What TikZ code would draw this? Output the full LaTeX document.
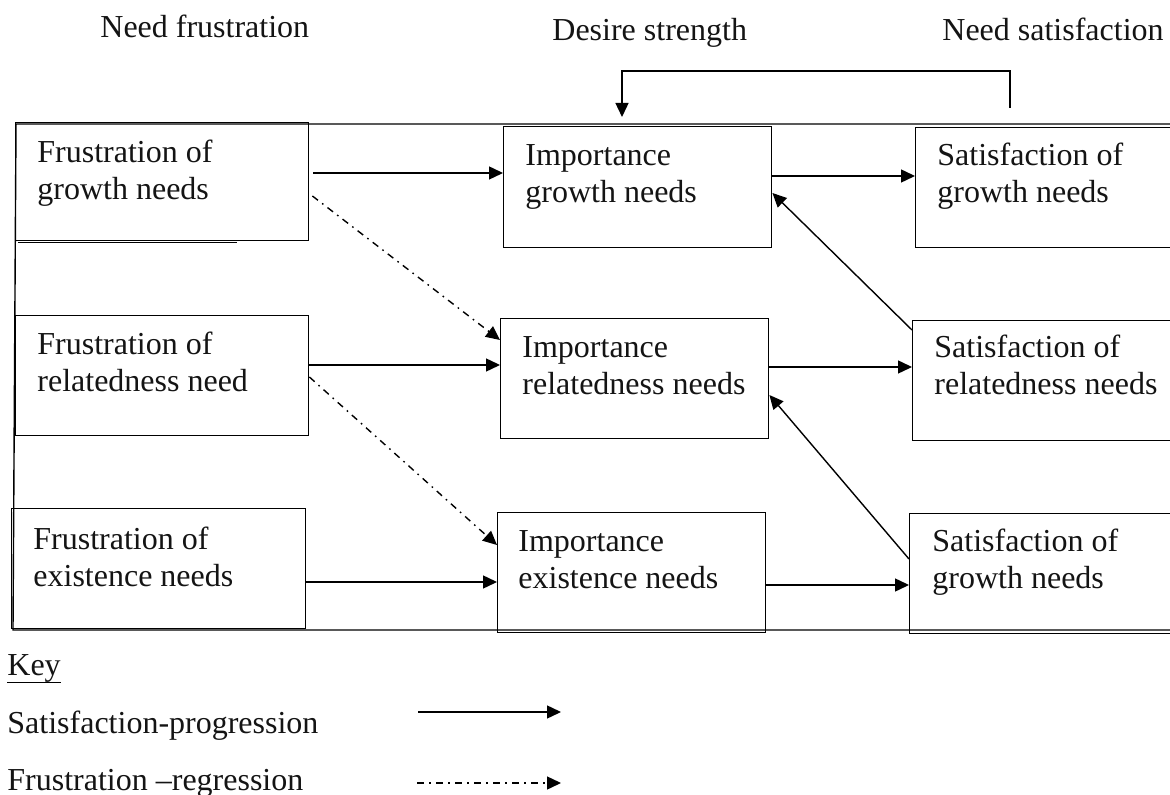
\documentclass[tikz,border=0pt]{standalone}
\usepackage{fontspec}
\setmainfont{Liberation Serif}
\usetikzlibrary{arrows.meta,calc}
\tikzset{
  box/.style={draw, line width=0.7pt, rectangle, inner sep=0pt, anchor=north west},
  txt/.style={inner sep=0pt, anchor=base west, align=left, text=black!92,
    font=\fontsize{16}{18.5}\selectfont},
  arr/.style={draw, line width=0.7pt, -{Triangle[length=7pt,width=6.5pt]}},
  dashdotarr/.style={arr, dash pattern=on 3.5pt off 2.6pt on 0.8pt off 2.6pt},
  frame/.style={draw, line width=0.7pt}
}
\begin{document}
\begin{tikzpicture}[x=0.5pt, y=-0.5pt]
\clip (0,0) rectangle (1170,795);
\fill[white] (0,0) rectangle (1170,795);

% headers
\node[txt] (hnf) at (100,38) {Need frustration};
\node[txt] (hds) at (552,41) {Desire strength};
\node[txt] (hns) at (942,41) {Need satisfaction};

% outer frame
\draw[frame] (1185,124) -- (16,124) -- (13,630) -- (1185,630);
\draw[frame, line width=0.5pt] (18,243) -- (237,243);

% boxes
\node[box, minimum width=293pt*0.5, minimum height=118pt*0.5] (f1) at (15,122) {};
\node[box, minimum width=293pt*0.5, minimum height=120pt*0.5] (f2) at (15,315) {};
\node[box, minimum width=294pt*0.5, minimum height=120pt*0.5] (f3) at (11,508) {};
\node[box, minimum width=268pt*0.5, minimum height=121pt*0.5] (i1) at (503,126) {};
\node[box, minimum width=268pt*0.5, minimum height=120pt*0.5] (i2) at (500,318) {};
\node[box, minimum width=268pt*0.5, minimum height=120pt*0.5] (i3) at (497,512) {};
\node[box, minimum width=280pt*0.5, minimum height=120pt*0.5] (s1) at (915,127) {};
\node[box, minimum width=280pt*0.5, minimum height=120pt*0.5] (s2) at (912,320) {};
\node[box, minimum width=280pt*0.5, minimum height=120pt*0.5] (s3) at (909,513) {};

% box texts (anchor = baseline of the last line)
\node[txt] (tf1) at ($(f1.north west)+(22,78)$) {Frustration of\\growth needs};
\node[txt] (tf2) at ($(f2.north west)+(22,77)$) {Frustration of\\relatedness need};
\node[txt] (tf3) at ($(f3.north west)+(22,78)$) {Frustration of\\existence needs};
\node[txt] (ti1) at ($(i1.north west)+(22,77)$) {Importance\\growth needs};
\node[txt] (ti2) at ($(i2.north west)+(22,77)$) {Importance\\relatedness needs};
\node[txt] (ti3) at ($(i3.north west)+(21,76)$) {Importance\\existence needs};
\node[txt] (ts1) at ($(s1.north west)+(22,76)$) {Satisfaction of\\growth needs};
\node[txt] (ts2) at ($(s2.north west)+(22,75)$) {Satisfaction of\\relatedness needs};
\node[txt] (ts3) at ($(s3.north west)+(23,75)$) {Satisfaction of\\growth needs};

% satisfaction-progression arrows
\draw[arr] ([xshift=2pt]f1.east |- 0,173) -- (i1.west |- 0,173);
\draw[arr] (i1.east |- 0,176) -- (s1.west |- 0,176);
\draw[arr] (f2.east |- 0,365) -- (i2.west |- 0,365);
\draw[arr] (i2.east |- 0,367) -- (s2.west |- 0,367);
\draw[arr] (f3.east |- 0,582) -- (i3.west |- 0,582);
\draw[arr] (i3.east |- 0,585) -- (s3.west |- 0,585);
\draw[arr] (s2.west |- 0,330) -- (i1.east |- 0,193);
\draw[arr] (s3.west |- 0,559) -- (i2.east |- 0,395);

% frustration-regression arrows
\draw[dashdotarr] ([xshift=1.5pt]f1.east |- 0,196) -- (i2.west |- 0,340);
\draw[dashdotarr] (f2.east |- 0,377) -- (i3.west |- 0,545);

% feedback
\draw[arr] ($(s1.north west)+(95,-19)$) -- ++(0,-37) -| ($(i1.north west)+(119,-9)$);

% key
\node[txt] (key) at (7,675) {Key};
\draw[line width=0.5pt] (key.base west) ++(0,7) -- ($(key.base east)+(0,7)$);
\node[txt] (ksp) at (7,733) {Satisfaction-progression};
\node[txt] (kfr) at (7,790) {Frustration –regression};
\coordinate (ka1) at (418,712);
\coordinate (kb1) at (561,712);
\coordinate (ka2) at (417,783);
\coordinate (kb2) at (561,783);
\draw[arr] (ka1) -- (kb1);
\draw[dashdotarr] (ka2) -- (kb2);
\end{tikzpicture}
\end{document}
